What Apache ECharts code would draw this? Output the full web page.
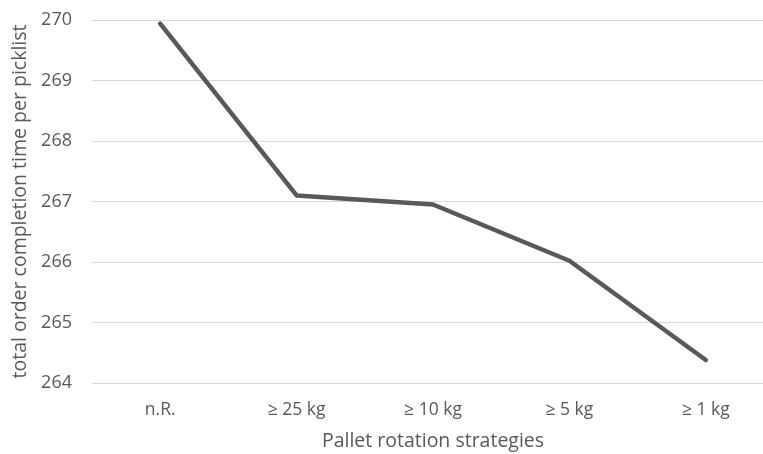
<!DOCTYPE html>
<html>
<head>
<meta charset="utf-8">
<script src="https://cdn.jsdelivr.net/npm/echarts@6/dist/echarts.min.js"></script>
<style>
  html, body { margin: 0; padding: 0; background: #fff; }
  #chart { width: 763px; height: 454px; }
</style>
</head>
<body>
<div id="chart"></div>
<script>
// Pallet rotation strategies and the resulting order completion time
const categories = ['n.R.', '≥ 25 kg', '≥ 10 kg', '≥ 5 kg', '≥ 1 kg'];
const completionTime = [269.94, 267.10, 266.95, 266.02, 264.38];
const yMin = 264;
const yMax = 270;
const yStep = 1;

const textColor = '#595959';
const font = '"Open Sans", "Noto Sans", sans-serif';

const chart = echarts.init(document.getElementById('chart'), null, { renderer: 'canvas' });
chart.setOption({
  animation: false,
  grid: { left: 92, top: 20, width: 682, height: 363, outerBoundsMode: 'none', containLabel: false },
  xAxis: {
    type: 'category',
    data: categories,
    boundaryGap: true,
    axisLine: { show: false },
    axisTick: { show: false },
    axisLabel: { color: textColor, fontFamily: font, fontSize: 17.5, margin: 18 },
    name: 'Pallet rotation strategies',
    nameLocation: 'middle',
    nameGap: 48,
    nameTextStyle: { color: textColor, fontFamily: font, fontSize: 19.5 }
  },
  yAxis: {
    type: 'value',
    min: yMin,
    max: yMax,
    interval: yStep,
    axisLine: { show: false },
    axisTick: { show: false },
    splitLine: { lineStyle: { color: '#d9d9d9', width: 1 } },
    axisLabel: { color: textColor, fontFamily: font, fontSize: 18, margin: 20 },
    name: 'total order completion time per picklist',
    nameLocation: 'middle',
    nameGap: 59,
    nameTextStyle: { color: textColor, fontFamily: font, fontSize: 19.5 }
  },
  series: [{
    type: 'line',
    data: completionTime,
    showSymbol: false,
    lineStyle: { color: '#595959', width: 4.5, cap: 'round', join: 'round' }
  }]
});
</script>
</body>
</html>
